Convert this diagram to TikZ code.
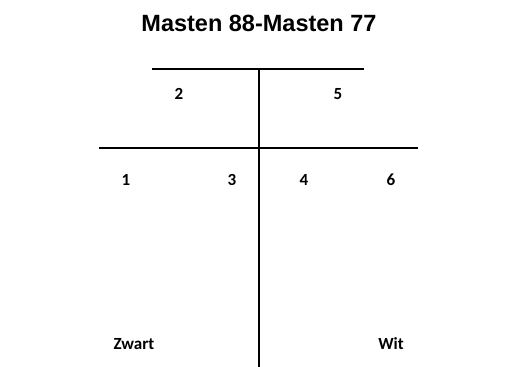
\documentclass[tikz,border=0pt]{standalone}
\usepackage{fontspec}
\setmainfont{Carlito}
\newfontfamily\titlefont{Liberation Sans}
\tikzset{
  bar/.style={line width=2pt, black},
  lbl/.style={anchor=base, inner sep=0pt, font=\fontsize{17}{20}\selectfont\bfseries},
  ttl/.style={anchor=base, inner sep=0pt, font=\titlefont\fontsize{23.5}{28}\selectfont\bfseries}
}
\begin{document}
\begin{tikzpicture}[x=1pt,y=-1pt]
\useasboundingbox (0,0) rectangle (520,367);
\node[ttl] (title) at (259,31.5) {Masten 88-Masten 77};
\coordinate (tl) at (152,68.5);
\coordinate (tr) at (364,68.5);
\coordinate (vt) at (258.5,68.5);
\coordinate (vb) at (258.5,367);
\coordinate (ml) at (99,148);
\coordinate (mr) at (418,148);
\draw[bar] (tl) -- (tr);
\draw[bar] (ml) -- (mr);
\draw[bar] (vt) -- (vb);
\node[lbl] (n2) at (179,99) {2};
\node[lbl] (n5) at (338,99) {5};
\node[lbl] (n1) at (126,185.5) {1};
\node[lbl] (n3) at (232,185.5) {3};
\node[lbl] (n4) at (304,185.5) {4};
\node[lbl] (n6) at (391,185.5) {6};
\node[lbl] (zw) at (134,349) {Zwart};
\node[lbl] (wit) at (391,349) {Wit};
\end{tikzpicture}
\end{document}
